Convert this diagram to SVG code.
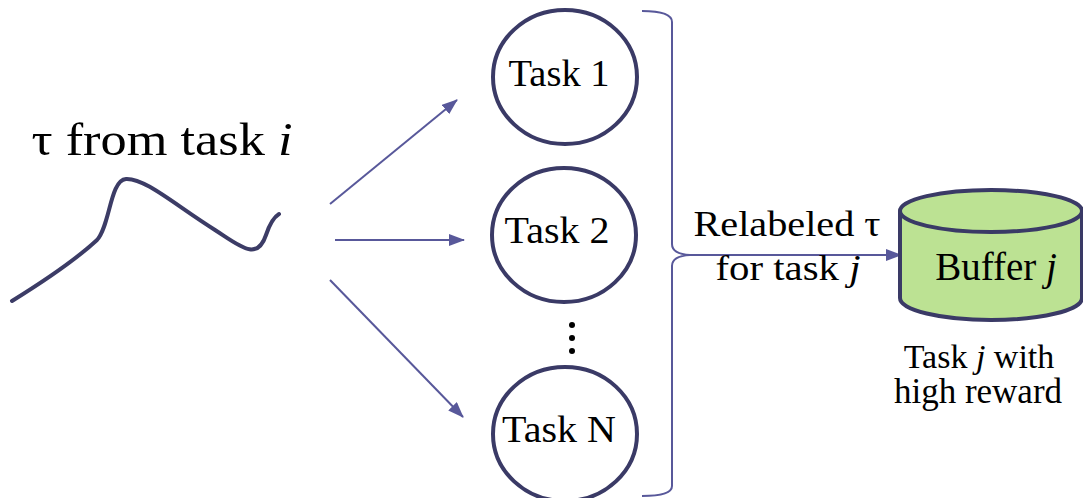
<svg xmlns="http://www.w3.org/2000/svg" width="1083" height="498" viewBox="0 0 1083 498">
<style>
.txt{font-family:"Liberation Serif","Times New Roman",serif;fill:#000}
.node{fill:#fff;stroke:#3a3a66;stroke-width:4}
.conn{stroke:#58589a;stroke-width:2;fill:none}
</style>
<defs>
<marker id="ah" markerWidth="16" markerHeight="12" refX="15" refY="6" orient="auto" markerUnits="userSpaceOnUse">
<path d="M0,0 L16,6 L0,12 Z" fill="#58589a"/>
</marker>
</defs>
<rect width="1083" height="498" fill="#fff"/>
<g id="trajectory">
<text class="txt" x="162" y="155" font-size="47" text-anchor="middle" textLength="261" lengthAdjust="spacingAndGlyphs">τ from task <tspan font-style="italic">i</tspan></text>
<path d="M12,301 Q70,265 97,240 C110,226 110,180 126,179 C145,178 175,205 215,230 C240,246 257,262 266,235 C270,223 274,217 279,214" fill="none" stroke="#3c3c66" stroke-width="4" stroke-linecap="round"/>
</g>
<g id="connectors">
<line class="conn" x1="330" y1="204" x2="457" y2="100" marker-end="url(#ah)"/>
<line class="conn" x1="335" y1="240" x2="464" y2="240" marker-end="url(#ah)"/>
<line class="conn" x1="330" y1="280" x2="463" y2="417" marker-end="url(#ah)"/>
<path class="conn" d="M642,11 Q672,11 672,22 L672,244 Q672,254 690,255 Q672,256 672,266 L672,486 Q672,496 642,496"/>
<line class="conn" x1="688" y1="255" x2="901" y2="255" marker-end="url(#ah)"/>
</g>
<g id="task1">
<ellipse class="node" cx="565" cy="77" rx="72" ry="67"/>
<text class="txt" x="559" y="86" font-size="37" text-anchor="middle" textLength="101" lengthAdjust="spacingAndGlyphs">Task 1</text>
</g>
<g id="task2">
<ellipse class="node" cx="564" cy="235" rx="72" ry="67"/>
<text class="txt" x="557" y="243" font-size="37" text-anchor="middle" textLength="105" lengthAdjust="spacingAndGlyphs">Task 2</text>
</g>
<g id="dots" fill="#000">
<circle cx="572" cy="325" r="3"/>
<circle cx="572" cy="338" r="3"/>
<circle cx="572" cy="351" r="3"/>
</g>
<g id="taskN">
<ellipse class="node" cx="565" cy="434" rx="72" ry="67"/>
<text class="txt" x="559" y="442" font-size="37" text-anchor="middle" textLength="114" lengthAdjust="spacingAndGlyphs">Task N</text>
</g>
<g id="edge-label">
<text class="txt" x="787" y="236" font-size="35" text-anchor="middle" textLength="187" lengthAdjust="spacingAndGlyphs">Relabeled τ</text>
<text class="txt" x="788" y="280" font-size="35" text-anchor="middle" textLength="145" lengthAdjust="spacingAndGlyphs">for task <tspan font-style="italic">j</tspan></text>
</g>
<g id="buffer">
<path d="M900,211 L900,298 A91,22 0 0 0 1082,298 L1082,211" fill="#bce293" stroke="#3a3a66" stroke-width="4"/>
<ellipse cx="991" cy="211" rx="91" ry="21" fill="#bce293" stroke="#3a3a66" stroke-width="4"/>
<text class="txt" x="996" y="280" font-size="39" text-anchor="middle">Buffer <tspan font-style="italic">j</tspan></text>
</g>
<g id="buffer-caption">
<text class="txt" x="979" y="368" font-size="34" text-anchor="middle">Task <tspan font-style="italic">j</tspan> with</text>
<text class="txt" x="978" y="403" font-size="35" text-anchor="middle">high reward</text>
</g>
</svg>
